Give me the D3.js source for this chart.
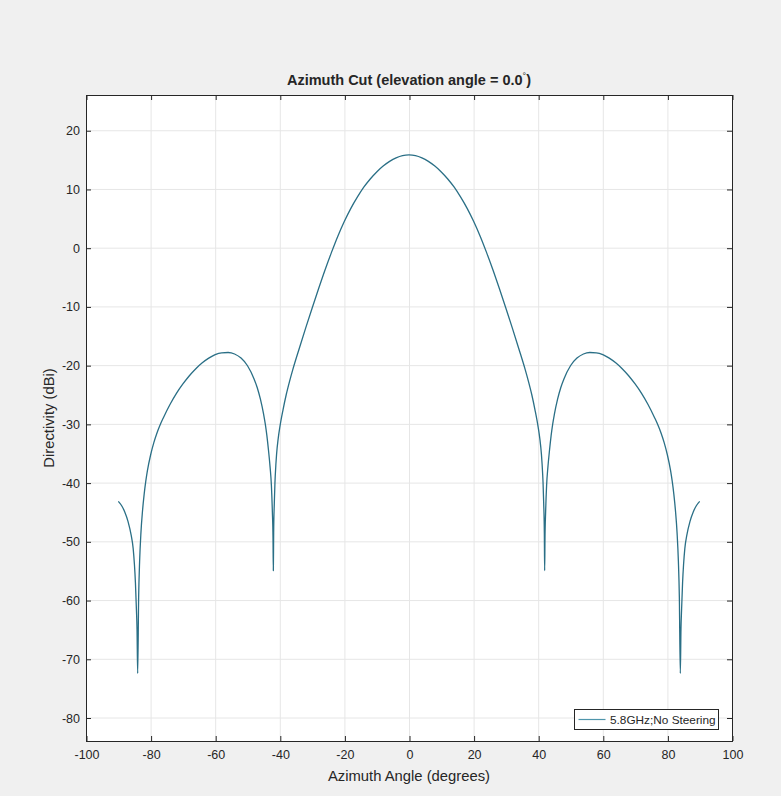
<!DOCTYPE html>
<html>
<head>
<meta charset="utf-8">
<script src="https://cdn.jsdelivr.net/npm/d3@7"></script>
<style>
  html, body { margin: 0; padding: 0; background: #f0f0f0; }
  svg { display: block; }
  text { font-family: "Liberation Sans", Arial, sans-serif; fill: #262626; }
</style>
</head>
<body>
<svg id="chart" width="781" height="796"></svg>
<script>
// ---- data ----
const angles = [
  -90, -89, -88, -87, -86, -85.4, -85, -84.7, -84.4, -84.2, -84, -83.7, -83.4, -83, -82.5, -82, -81.5, -81, -80, -79, -78, -77, -76, -74, -72, -70, -68, -66, -64, -62, -60, -58, -56, -54, -52, -50, -48, -47, -46, -45, -44.5, -44, -43.5, -43, -42.6, -42.3, -42.1, -42,
  -41.9, -41.7, -41.5, -41.2, -41, -40.5, -40, -39, -38, -37, -36, -34, -32, -30, -28, -26, -24, -22, -20, -18, -16, -14, -12, -10, -8, -6, -4, -2,
  0,
  2, 4, 6, 8, 10, 12, 14, 16, 18, 20, 22, 24, 26, 28, 30, 32, 34, 36, 37, 38, 39, 40, 40.5, 41, 41.2, 41.5, 41.7, 41.9,
  42, 42.1, 42.3, 42.6, 43, 43.5, 44, 44.5, 45, 46, 47, 48, 50, 52, 54, 56, 58, 60, 62, 64, 66, 68, 70, 72, 74, 76, 77, 78, 79, 80, 81, 81.5, 82, 82.5, 83, 83.4, 83.7, 84, 84.2, 84.4, 84.7, 85, 85.4, 86, 87, 88, 89, 90
];
const directivity = [
  -43.2, -43.9, -45.0, -46.6, -49.0, -51.2, -54.0, -57.0, -61.5, -65.0, -72.5, -59.5, -53.4, -48.6, -44.8, -42.0, -39.8, -38.0, -35.3, -33.2, -31.5, -30.1, -28.9, -26.7, -24.8, -23.2, -21.8, -20.6, -19.6, -18.8, -18.2, -17.9, -17.85, -18.1, -18.8, -20.1, -22.3, -23.8, -25.8, -28.4, -30.0, -32.0, -34.5, -37.4, -40.5, -45.0, -49.5, -55.0,
  -48.5, -43.5, -40.0, -36.8, -35.2, -32.5, -30.6, -27.6, -25.0, -22.8, -20.8, -17.2, -13.7, -10.3, -7.0, -3.8, -0.8, 2.0, 4.5, 6.7, 8.6, 10.3, 11.7, 12.9, 13.9, 14.7, 15.3, 15.68,
  15.8,
  15.68, 15.3, 14.7, 13.9, 12.9, 11.7, 10.3, 8.6, 6.7, 4.5, 2.0, -0.8, -3.8, -7.0, -10.3, -13.7, -17.2, -20.8, -22.8, -25.0, -27.6, -30.6, -32.5, -35.2, -36.8, -40.0, -43.5, -48.5,
  -55.0, -49.5, -45.0, -40.5, -37.4, -34.5, -32.0, -30.0, -28.4, -25.8, -23.8, -22.3, -20.1, -18.8, -18.1, -17.85, -17.9, -18.2, -18.8, -19.6, -20.6, -21.8, -23.2, -24.8, -26.7, -28.9, -30.1, -31.5, -33.2, -35.3, -38.0, -39.8, -42.0, -44.8, -48.6, -53.4, -59.5, -72.5, -65.0, -61.5, -57.0, -54.0, -51.2, -49.0, -46.6, -45.0, -43.9, -43.2
];
const seriesName = "5.8GHz;No Steering";
const xTicks = [-100, -80, -60, -40, -20, 0, 20, 40, 60, 80, 100];
const yTicks = [-80, -70, -60, -50, -40, -30, -20, -10, 0, 10, 20];
const xDomain = [-100, 100];
const yDomain = [-84, 26];

// ---- layout ----
const svg = d3.select("#chart");
const pL = 86, pR = 732, pT = 95, pB = 741;
const x = d3.scaleLinear().domain(xDomain).range([pL, pR]);
const y = d3.scaleLinear().domain(yDomain).range([pB, pT]);
const axisColor = "#262626";
const gridColor = "#e6e6e6";
const lineColor = "#2a6f86";
const fmt = d => String(d);

// plot background
svg.append("rect").attr("x", pL).attr("y", pT)
  .attr("width", pR - pL).attr("height", pB - pT)
  .attr("fill", "#ffffff");

// grid
const grid = svg.append("g");
grid.selectAll("line.gx").data(xTicks).join("line")
  .attr("x1", d => x(d) + 0.5).attr("x2", d => x(d) + 0.5)
  .attr("y1", pT).attr("y2", pB)
  .attr("stroke", gridColor).attr("stroke-width", 1);
grid.selectAll("line.gy").data(yTicks).join("line")
  .attr("y1", d => y(d) + 0.5).attr("y2", d => y(d) + 0.5)
  .attr("x1", pL).attr("x2", pR)
  .attr("stroke", gridColor).attr("stroke-width", 1);

// axes (ticks inward)
const tickLen = 5;
const xAxisB = d3.axisBottom(x).tickValues(xTicks).tickFormat(fmt).tickSizeInner(-tickLen).tickSizeOuter(0).tickPadding(9);
const xAxisT = d3.axisTop(x).tickValues(xTicks).tickSizeInner(-tickLen).tickSizeOuter(0).tickFormat("");
const yAxisL = d3.axisLeft(y).tickValues(yTicks).tickFormat(fmt).tickSizeInner(-tickLen).tickSizeOuter(0).tickPadding(6);
const yAxisR = d3.axisRight(y).tickValues(yTicks).tickSizeInner(-tickLen).tickSizeOuter(0).tickFormat("");

function styleAxis(g) {
  g.select(".domain").remove();
  g.selectAll("line").attr("stroke", axisColor);
  g.selectAll("text").attr("fill", "#333333").style("font-size", "12.5px")
    .style("font-family", "'Liberation Sans', Arial, sans-serif");
}
svg.append("g").attr("transform", `translate(0.5,${pB})`).call(xAxisB).call(styleAxis);
svg.append("g").attr("transform", `translate(0.5,${pT})`).call(xAxisT).call(styleAxis);
svg.append("g").attr("transform", `translate(${pL},0.5)`).call(yAxisL).call(styleAxis);
svg.append("g").attr("transform", `translate(${pR},0.5)`).call(yAxisR).call(styleAxis);

// frame
svg.append("rect").attr("x", pL + 0.5).attr("y", pT + 0.5)
  .attr("width", pR - pL).attr("height", pB - pT)
  .attr("fill", "none").attr("stroke", axisColor).attr("stroke-width", 1);

// curve
const pts = angles.map((a, i) => [a, directivity[i]]);
svg.append("clipPath").attr("id", "clip").append("rect")
  .attr("x", pL).attr("y", pT).attr("width", pR - pL).attr("height", pB - pT);
svg.append("path").datum(pts)
  .attr("clip-path", "url(#clip)")
  .attr("d", d3.line().x(d => x(d[0])).y(d => y(d[1])).curve(d3.curveMonotoneX))
  .attr("fill", "none").attr("stroke", lineColor).attr("stroke-width", 1.3)
  .attr("stroke-linejoin", "round");

// title
const title = svg.append("text").attr("x", (pL + pR) / 2).attr("y", 85)
  .attr("text-anchor", "middle").style("font-size", "14.5px").style("font-weight", "bold");
title.append("tspan").text("Azimuth Cut (elevation angle = 0.0");
title.append("tspan").attr("dy", -6).style("font-size", "9px").style("font-weight", "normal").text("°");
title.append("tspan").attr("dy", 6).text(")");

// axis labels
svg.append("text").attr("x", (pL + pR) / 2).attr("y", 781)
  .attr("text-anchor", "middle").style("font-size", "14.8px").text("Azimuth Angle (degrees)");
svg.append("text").attr("transform", `translate(54,${(pT + pB) / 2}) rotate(-90)`)
  .attr("text-anchor", "middle").style("font-size", "14.8px").text("Directivity (dBi)");

// legend
const lg = svg.append("g").attr("transform", "translate(574.5,709.5)");
lg.append("rect").attr("width", 144).attr("height", 20)
  .attr("fill", "#ffffff").attr("stroke", axisColor).attr("stroke-width", 1);
lg.append("line").attr("x1", 4).attr("x2", 31).attr("y1", 10).attr("y2", 10)
  .attr("stroke", "#4f95ab").attr("stroke-width", 1.2);
lg.append("text").attr("x", 35.5).attr("y", 14.5).style("font-size", "11.8px").text(seriesName);
</script>
</body>
</html>
